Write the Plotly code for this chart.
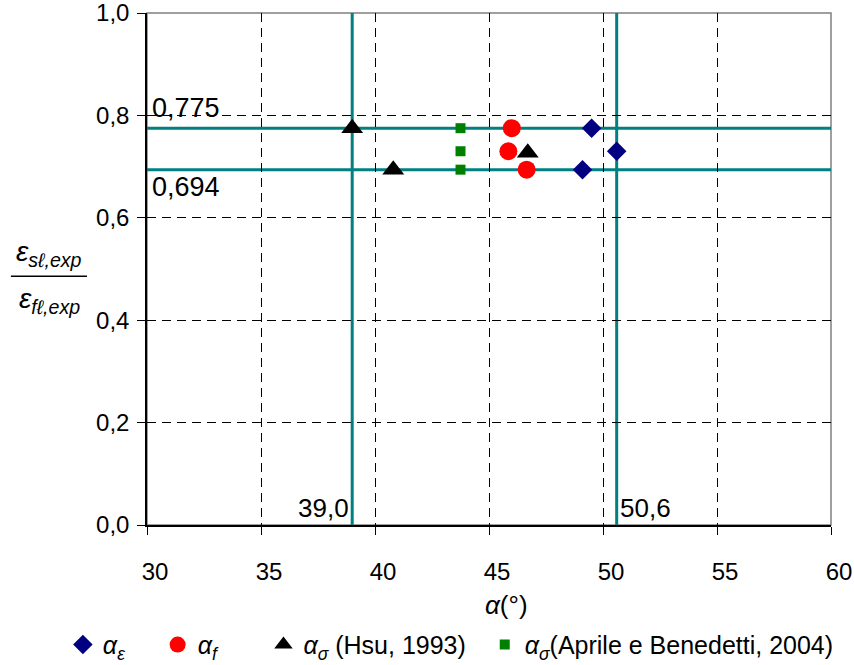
import plotly.graph_objects as go

# Data
alpha_eps_x = [49.5, 50.6, 49.1]
alpha_eps_y = [0.775, 0.73, 0.694]
alpha_f_x = [46.0, 45.85, 46.65]
alpha_f_y = [0.775, 0.73, 0.694]
alpha_hsu_x = [39.0, 46.7, 40.8]
alpha_hsu_y = [0.775, 0.727, 0.694]
alpha_apr_x = [43.75, 43.75, 43.75]
alpha_apr_y = [0.775, 0.73, 0.694]

ref_x = [39.0, 50.6]
ref_y = [0.775, 0.694]
ref_x_labels = ["39,0", "50,6"]
ref_y_labels = ["0,775", "0,694"]

FONT = "Liberation Sans, Arial, sans-serif"
TEAL = "#008080"
NB = "\u00a0"

fig = go.Figure()
fig.add_trace(go.Scatter(x=alpha_eps_x, y=alpha_eps_y, mode="markers",
                         name="<i>α</i><sub><i>ε</i></sub>" + NB * 4,
                         marker=dict(symbol="diamond", size=15, color="#000080")))
fig.add_trace(go.Scatter(x=alpha_f_x, y=alpha_f_y, mode="markers",
                         name="<i>α</i><sub><i>f</i></sub>" + NB * 6,
                         marker=dict(symbol="circle", size=18, color="#FF0000")))
fig.add_trace(go.Scatter(x=alpha_hsu_x, y=alpha_hsu_y, mode="markers",
                         name="<i>α</i><sub><i>σ</i></sub> (Hsu, 1993)" + NB * 2,
                         marker=dict(symbol="triangle-up", size=19, color="#000000")))
fig.add_trace(go.Scatter(x=alpha_apr_x, y=alpha_apr_y, mode="markers",
                         name="<i>α</i><sub><i>σ</i></sub>(Aprile e Benedetti, 2004)",
                         marker=dict(symbol="square", size=10, color="#008000")))

shapes = [dict(type="rect", xref="paper", yref="paper", x0=0, x1=1, y0=0, y1=1,
               line=dict(color="#808080", width=1.5), layer="below")]
for xv in ref_x:
    shapes.append(dict(type="line", xref="x", yref="paper", x0=xv, x1=xv, y0=0, y1=1,
                       line=dict(color=TEAL, width=3), layer="below"))
for yv in ref_y:
    shapes.append(dict(type="line", xref="paper", yref="y", x0=0, x1=1, y0=yv, y1=yv,
                       line=dict(color=TEAL, width=3), layer="below"))
# fraction bar for y label
shapes.append(dict(type="line", xref="paper", yref="paper", x0=-0.199, x1=-0.0877,
                   y0=0.486, y1=0.486, line=dict(color="black", width=1.5)))

annotations = [
    dict(x=30, y=ref_y[0], xref="x", yref="y", text=ref_y_labels[0], showarrow=False,
         xanchor="left", yanchor="bottom", xshift=3, yshift=3, font=dict(size=27)),
    dict(x=30, y=ref_y[1], xref="x", yref="y", text=ref_y_labels[1], showarrow=False,
         xanchor="left", yanchor="top", xshift=3, yshift=0, font=dict(size=27)),
    dict(x=ref_x[0], y=0, xref="x", yref="y", text=ref_x_labels[0], showarrow=False,
         xanchor="right", yanchor="bottom", xshift=-1, yshift=0, font=dict(size=26)),
    dict(x=ref_x[1], y=0, xref="x", yref="y", text=ref_x_labels[1], showarrow=False,
         xanchor="left", yanchor="bottom", xshift=1, yshift=0, font=dict(size=26)),
    dict(x=-0.143, y=0.493, xref="paper", yref="paper",
         text="<i>ε</i><sub><i>sℓ,exp</i></sub>", showarrow=False,
         xanchor="center", yanchor="bottom", font=dict(size=28)),
    dict(x=-0.143, y=0.476, xref="paper", yref="paper",
         text="<i>ε</i><sub><i>fℓ,exp</i></sub>", showarrow=False,
         xanchor="center", yanchor="top", font=dict(size=28)),
    dict(x=0.525, y=-0.157, xref="paper", yref="paper", text="<i>α</i>(°)",
         showarrow=False, xanchor="center", yanchor="middle", font=dict(size=26)),
]

fig.update_layout(
    width=854, height=665,
    margin=dict(l=147, r=23, t=13, b=140, autoexpand=False),
    paper_bgcolor="white", plot_bgcolor="white",
    font=dict(family=FONT, size=24, color="black"),
    separators=", ",
    showlegend=True,
    legend=dict(orientation="h", xref="paper", yref="paper",
                x=-0.123, y=-0.234, xanchor="left", yanchor="middle",
                font=dict(size=25), itemwidth=30, tracegroupgap=0,
                bgcolor="rgba(0,0,0,0)"),
    shapes=shapes,
    annotations=annotations,
    xaxis=dict(range=[30, 60], dtick=5, tick0=30, showgrid=True,
               gridcolor="black", griddash="9px,6px", gridwidth=1,
               showline=True, linecolor="black", linewidth=1.5,
               ticks="outside", ticklen=8, tickcolor="black",
               ticklabelstandoff=16, ticklabelshift=8, zeroline=False,
               automargin=False, ticklabeloverflow="allow"),
    yaxis=dict(range=[0, 1], dtick=0.2, tickformat=".1f", showgrid=True,
               gridcolor="black", griddash="9px,6px", gridwidth=1,
               showline=True, linecolor="black", linewidth=1.5,
               ticks="outside", ticklen=8, tickcolor="black",
               ticklabelstandoff=3, zeroline=False, automargin=False,
               ticklabeloverflow="allow"),
)

fig.write_html("out.html")
